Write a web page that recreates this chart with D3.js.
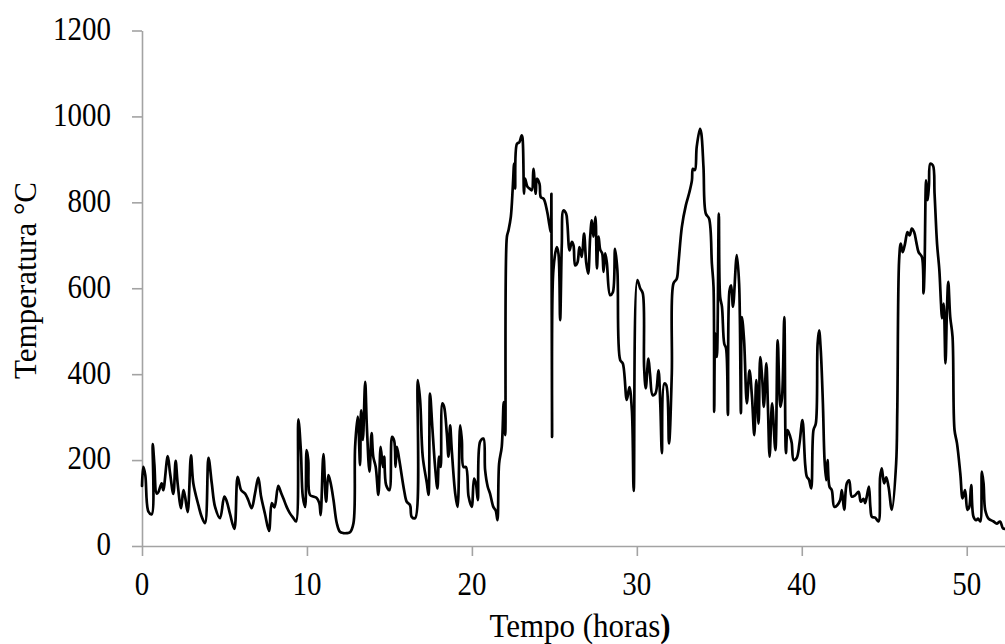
<!DOCTYPE html>
<html>
<head>
<meta charset="utf-8">
<script src="https://cdn.jsdelivr.net/npm/d3@7"></script>
<style>
  html, body { margin: 0; padding: 0; background: #fff; }
  svg { display: block; }
  text { font-family: "Liberation Serif", "Times New Roman", serif; fill: #000; }
</style>
</head>
<body>
<svg id="chart" width="1005" height="644"></svg>
<script>
// ---- data ----
const hours = [
  0, 0.08, 0.2, 0.39, 0.59, 0.65, 0.75, 0.89, 0.99, 1.19, 1.29, 1.56, 1.7, 1.9, 2.04, 2.16, 2.37, 2.51, 2.61, 2.77,
  2.97, 3.11, 3.42, 3.62, 3.82, 4.03, 4.23, 4.43, 4.73, 4.99, 5.13, 5.34, 5.6, 5.8, 6.01, 6.25, 6.44, 6.65, 6.85, 7.05,
  7.22, 7.46, 7.7, 7.87, 8.03, 8.26, 8.42, 8.58, 8.77, 8.97, 9.18, 9.34, 9.48, 9.63, 9.75, 9.89, 9.98, 10.08, 10.18, 10.39,
  10.59, 10.75, 10.83, 11.0, 11.16, 11.3, 11.44, 11.61, 11.81, 12.0, 12.21, 12.41, 12.61, 12.82, 12.92, 13.08, 13.22, 13.28, 13.39, 13.53,
  13.63, 13.79, 13.92, 14.02, 14.17, 14.33, 14.47, 14.6, 14.68, 14.8, 15.0, 15.16, 15.29, 15.37, 15.45, 15.6, 15.89, 16.05, 16.25, 16.35,
  16.56, 16.72, 16.86, 17.02, 17.27, 17.37, 17.46, 17.6, 17.77, 17.91, 18.01, 18.11, 18.21, 18.31, 18.48, 18.58, 18.68, 18.78, 18.99, 19.13,
  19.29, 19.39, 19.49, 19.64, 19.8, 19.99, 20.13, 20.24, 20.36, 20.5, 20.7, 20.8, 20.96, 21.1, 21.3, 21.45, 21.55, 21.65, 21.81, 21.93,
  22.02, 22.12, 22.22, 22.36, 22.48, 22.56, 22.62, 22.73, 22.88, 23.02, 23.07, 23.16, 23.22, 23.37, 23.5, 23.63, 23.73, 23.87, 23.94, 24.1,
  24.18, 24.35, 24.55, 24.7, 24.78, 24.82, 24.86, 24.94, 25.15, 25.25, 25.35, 25.45, 25.55, 25.71, 25.79, 25.92, 26.06, 26.16, 26.26, 26.4,
  26.52, 26.66, 26.8, 26.93, 27.05, 27.17, 27.27, 27.37, 27.49, 27.58, 27.68, 27.78, 27.9, 27.98, 28.08, 28.18, 28.38, 28.54, 28.68, 28.82,
  28.99, 29.15, 29.39, 29.55, 29.7, 29.81, 30.03, 30.2, 30.36, 30.44, 30.54, 30.7, 30.8, 30.96, 31.13, 31.31, 31.42, 31.52, 31.66, 31.78,
  31.95, 32.12, 32.22, 32.42, 32.52, 32.73, 32.97, 33.19, 33.34, 33.4, 33.52, 33.63, 33.83, 33.91, 34.04, 34.18, 34.38, 34.55, 34.65, 34.69,
  34.75, 34.85, 34.97, 35.05, 35.16, 35.3, 35.41, 35.52, 35.62, 35.72, 35.83, 36.06, 36.2, 36.31, 36.37, 36.5, 36.67, 36.83, 36.98, 37.12,
  37.24, 37.38, 37.48, 37.6, 37.7, 37.85, 37.95, 38.05, 38.2, 38.4, 38.54, 38.7, 38.8, 38.94, 39.04, 39.14, 39.3, 39.39, 39.51, 39.69,
  39.86, 40.04, 40.21, 40.31, 40.43, 40.57, 40.71, 40.85, 40.96, 41.05, 41.15, 41.28, 41.38, 41.48, 41.56, 41.68, 41.82, 41.97, 42.15, 42.33,
  42.43, 42.57, 42.73, 42.87, 43.03, 43.23, 43.44, 43.58, 43.74, 43.84, 43.94, 44.07, 44.16, 44.25, 44.45, 44.65, 44.75, 44.85, 44.99, 45.12,
  45.26, 45.46, 45.72, 45.79, 45.9, 46.0, 46.12, 46.26, 46.41, 46.54, 46.67, 46.81, 46.94, 47.08, 47.28, 47.38, 47.44, 47.54, 47.63, 47.71,
  47.79, 47.95, 48.05, 48.2, 48.34, 48.44, 48.5, 48.6, 48.71, 48.8, 48.88, 49.0, 49.14, 49.26, 49.41, 49.61, 49.75, 49.9, 50.04, 50.15,
  50.27, 50.41, 50.57, 50.69, 50.82, 50.92, 51.02, 51.12, 51.32, 51.63, 51.82, 52.02, 52.2, 52.32
];
const temps = [
  140, 184, 165, 80, 74, 237, 190, 122, 125, 146, 130, 209, 170, 121, 198, 146, 88, 130, 115, 79,
  211, 146, 95, 68, 53, 205, 146, 91, 65, 115, 105, 74, 40, 161, 130, 122, 107, 88, 122, 159,
  115, 74, 35, 100, 90, 140, 125, 110, 91, 76, 65, 57, 295, 223, 115, 91, 223, 200, 119, 115,
  112, 100, 72, 214, 103, 165, 146, 107, 53, 33, 30, 30, 32, 53, 231, 301, 188, 316, 247, 382,
  280, 173, 263, 208, 184, 119, 231, 184, 208, 142, 130, 254, 245, 184, 231, 200, 130, 103, 95, 68,
  65, 386, 340, 208, 146, 119, 355, 277, 184, 134, 208, 184, 332, 325, 262, 208, 281, 223, 122, 91,
  281, 247, 184, 184, 115, 91, 157, 146, 107, 243, 250, 177, 138, 122, 91, 82, 60, 192, 231, 335,
  258, 719, 735, 766, 836, 890, 832, 936, 940, 956, 950, 820, 855, 836, 832, 828, 878, 820, 855, 843,
  812, 808, 781, 747, 731, 820, 254, 642, 696, 680, 526, 700, 781, 774, 750, 688, 708, 700, 653, 660,
  696, 673, 727, 660, 634, 719, 758, 720, 766, 646, 720, 690, 681, 638, 681, 660, 584, 590, 692, 642,
  433, 425, 340, 370, 316, 128, 619, 600, 588, 417, 367, 436, 400, 351, 355, 409, 332, 216, 378, 375,
  239, 402, 611, 622, 657, 743, 793, 824, 851, 878, 875, 929, 971, 960, 882, 774, 762, 657, 603, 312,
  495, 440, 774, 580, 557, 471, 460, 305, 595, 607, 557, 677, 611, 309, 533, 480, 332, 409, 347, 258,
  386, 285, 440, 390, 324, 425, 320, 208, 332, 223, 479, 324, 345, 533, 216, 270, 254, 240, 200, 205,
  239, 293, 188, 161, 155, 134, 270, 285, 471, 502, 456, 332, 200, 153, 200, 138, 130, 91, 95, 107,
  130, 84, 146, 153, 115, 118, 126, 103, 110, 100, 115, 138, 90, 68, 66, 57, 161, 181, 146, 160,
  138, 84, 192, 316, 665, 704, 684, 704, 731, 723, 739, 731, 708, 684, 673, 588, 642, 851, 805, 840,
  890, 886, 820, 704, 642, 564, 530, 564, 425, 549, 615, 533, 487, 270, 239, 169, 111, 130, 84, 90,
  142, 68, 60, 64, 57, 173, 146, 84, 64, 57, 52, 57, 41, 40
];
const xTicks = [0, 10, 20, 30, 40, 50];
const yTicks = [0, 200, 400, 600, 800, 1000, 1200];
const xTitle = "Tempo (horas";
const xTitleEnd = ")";
const yTitle = "Temperatura °C";

// ---- layout ----
const svg = d3.select("#chart");
const x = d3.scaleLinear().domain([0, 52.32]).range([142, 1005]);
const y = d3.scaleLinear().domain([0, 1200]).range([546, 30.5]);
const axisColor = "#a3a3a3";

// axes
const xAxis = svg.append("g").attr("transform", "translate(0,546)")
  .call(d3.axisBottom(x).tickValues(xTicks).tickSize(10).tickSizeOuter(0).tickFormat(""));
const yAxis = svg.append("g").attr("transform", "translate(142,0)")
  .call(d3.axisLeft(y).tickValues(yTicks).tickSize(10).tickSizeOuter(0).tickFormat(""));
[xAxis, yAxis].forEach(g => {
  g.select(".domain").attr("stroke", axisColor).attr("stroke-width", 1.6);
  g.selectAll(".tick line").attr("stroke", axisColor).attr("stroke-width", 1.6);
});

// tick labels
svg.append("g").selectAll("text").data(xTicks).join("text")
  .attr("transform", d => `translate(${x(d)},595) scale(1,1.15)`)
  .attr("text-anchor", "middle")
  .style("font-size", "29px")
  .text(d => d);
svg.append("g").selectAll("text").data(yTicks).join("text")
  .attr("transform", d => `translate(111,${y(d)}) scale(1,1.15)`)
  .attr("text-anchor", "end")
  .attr("dy", "0.28em")
  .style("font-size", "29px")
  .text(d => d);

// axis titles
const xt = svg.append("text")
  .attr("transform", "translate(580,637) scale(1,1.08)")
  .attr("text-anchor", "middle")
  .style("font-size", "31px");
xt.append("tspan").text(xTitle);
xt.append("tspan").style("font-weight", "bold").text(xTitleEnd);

svg.append("text")
  .attr("transform", "translate(36,280.5) rotate(-90)")
  .attr("text-anchor", "middle")
  .style("font-size", "31px")
  .text(yTitle);

// line
const pts = hours.map((h, i) => [h, temps[i]]);
svg.append("path")
  .datum(pts)
  .attr("fill", "none")
  .attr("stroke", "#000")
  .attr("stroke-width", 2.7)
  .attr("stroke-linejoin", "round")
  .attr("stroke-linecap", "round")
  .attr("d", d3.line().curve(d3.curveCatmullRom.alpha(0.5)).x(d => x(d[0])).y(d => y(d[1])));
</script>
</body>
</html>
